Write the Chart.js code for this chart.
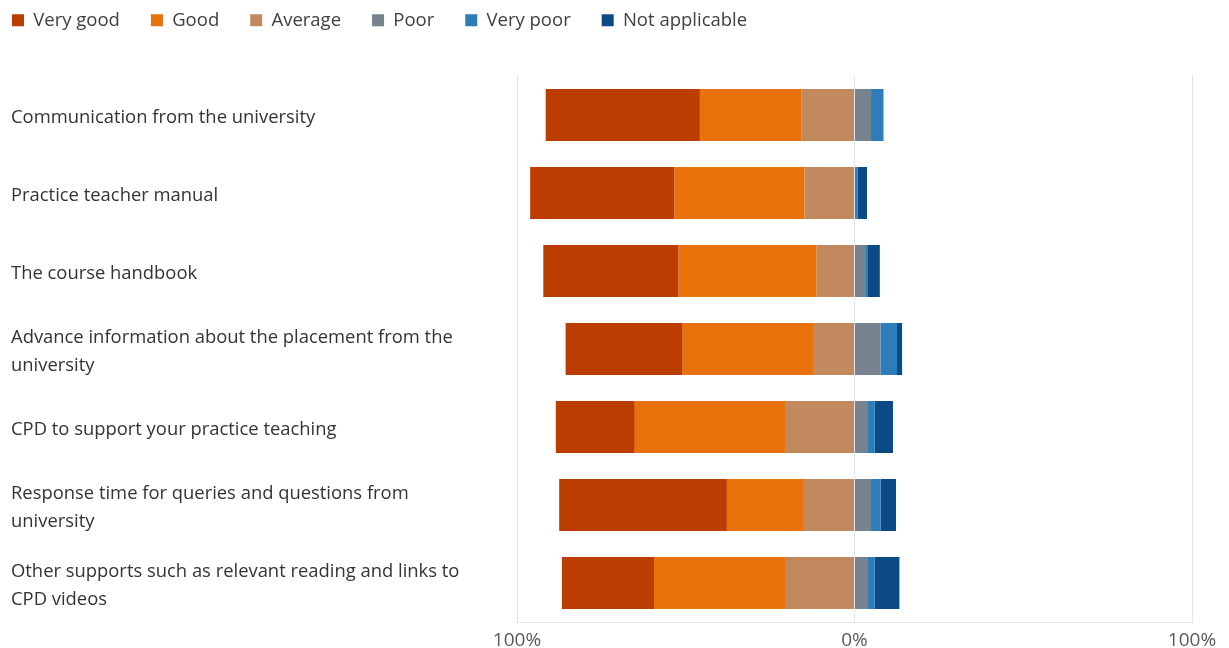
<!DOCTYPE html>
<html>
<head>
<meta charset="utf-8">
<script src="https://cdn.jsdelivr.net/npm/chart.js@4/dist/chart.umd.min.js"></script>
<style>
  html, body { margin: 0; padding: 0; background: #fff; }
</style>
</head>
<body>
<canvas id="chart" width="1229" height="648"></canvas>
<script>
// survey items, top to bottom
const categories = [
    'Communication from the university',
    'Practice teacher manual',
    'The course handbook',
    ['Advance information about the placement from the', 'university'],
    'CPD to support your practice teaching',
    ['Response time for queries and questions from', 'university'],
    ['Other supports such as relevant reading and links to', 'CPD videos']
];

// percentages
const veryGood      = [45.7, 42.8, 40.1, 34.7, 23.4, 49.7, 27.3];
const good          = [30.0, 38.5, 40.9, 38.6, 44.5, 22.8, 38.8];
const average       = [15.8, 14.8, 11.2, 12.3, 20.6, 15.0, 20.6];
const poor          = [4.9, 0, 3.4, 7.7, 4.0, 4.9, 4.0];
const veryPoor      = [3.7, 0.9, 0.6, 4.9, 2.0, 2.8, 2.0];
const notApplicable = [0, 2.8, 3.5, 1.5, 5.4, 4.6, 7.3];

const xTicks = [-100, 0, 100];
const legendOrder = ['Very good', 'Good', 'Average', 'Poor', 'Very poor', 'Not applicable'];

const FONT = "'Open Sans', 'Noto Sans', sans-serif";

// negative side stacks outward from 0: Average first, then Good, then Very good
const datasets = [
    { label: 'Average', data: average.map(v => -v), backgroundColor: '#c3895e' },
    { label: 'Good', data: good.map(v => -v), backgroundColor: '#e8710a' },
    { label: 'Very good', data: veryGood.map(v => -v), backgroundColor: '#bb3d02' },
    { label: 'Poor', data: poor, backgroundColor: '#76838f' },
    { label: 'Very poor', data: veryPoor, backgroundColor: '#2e7dbb' },
    { label: 'Not applicable', data: notApplicable, backgroundColor: '#0b4a85' }
];

// legend sits flush top-left with wide gaps between items
const legendPlace = {
    id: 'legendPlace',
    beforeInit(chart) {
        const fit = chart.legend.fit;
        chart.legend.fit = function() {
            fit.call(this);
            this.height = 76;
        };
    },
    afterLayout(chart) {
        let pad = chart.options.plugins.legend.labels.padding;
        chart.legend.left = 12 - pad;
        chart.legend.top = 11 - pad;
    }
};

new Chart(document.getElementById('chart'), {
    type: 'bar',
    data: {
        labels: categories,
        datasets: datasets
    },
    plugins: [legendPlace],
    options: {
        responsive: false,
        animation: false,
        indexAxis: 'y',
        layout: { padding: { left: 11, right: 37, top: 0, bottom: 0 } },
        datasets: {
            bar: { barPercentage: 0.667, categoryPercentage: 1, borderWidth: 0 }
        },
        scales: {
            x: {
                stacked: true,
                min: -100,
                max: 100,
                afterBuildTicks: axis => { axis.ticks = xTicks.map(v => ({ value: v })); },
                afterFit: axis => { axis.height = 26; },
                ticks: {
                    callback: v => Math.abs(v) + '%',
                    color: '#595959',
                    padding: 9,
                    font: { family: FONT, size: 19, lineHeight: 1 }
                },
                grid: { color: '#e3e3e3', drawTicks: false },
                border: { color: '#e3e3e3' }
            },
            y: {
                stacked: true,
                grid: { display: false, drawTicks: false },
                border: { display: false },
                afterFit: axis => { axis.width = 506; },
                ticks: {
                    crossAlign: 'far',
                    labelOffset: 3,
                    color: '#333333',
                    font: { family: FONT, size: 18.4, lineHeight: 1.52 }
                }
            }
        },
        plugins: {
            tooltip: { enabled: false },
            legend: {
                position: 'top',
                align: 'start',
                labels: {
                    boxWidth: 12,
                    boxHeight: 12,
                    padding: 31,
                    color: '#404040',
                    font: { family: FONT, size: 18.5 },
                    sort: (a, b) => legendOrder.indexOf(a.text) - legendOrder.indexOf(b.text)
                }
            }
        }
    }
});
</script>
</body>
</html>
